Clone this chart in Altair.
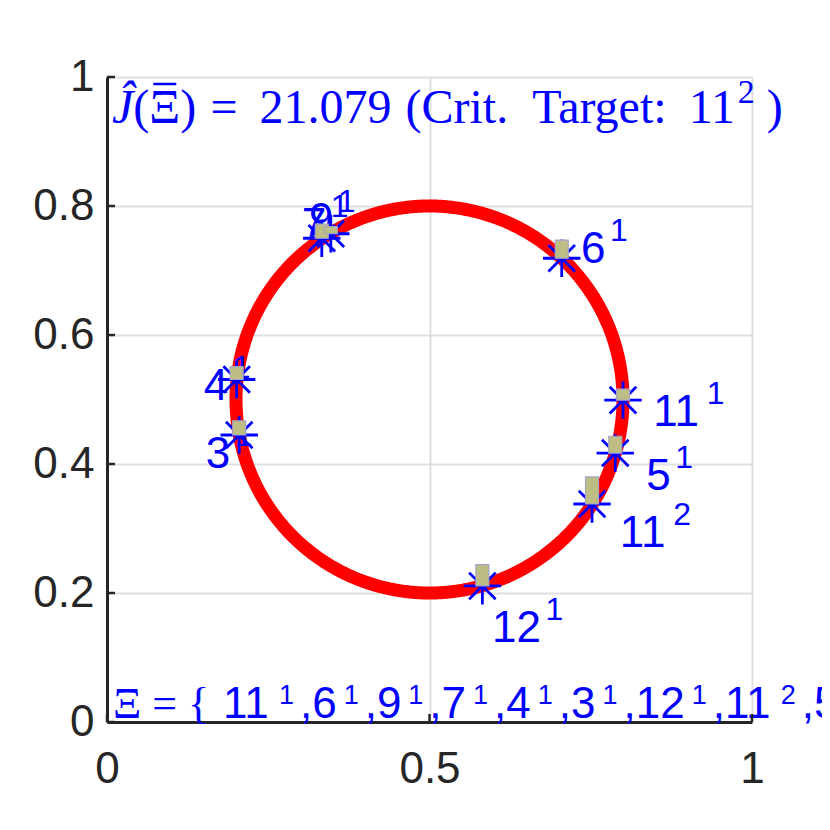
import altair as alt
import numpy as np
import pandas as pd

# ---------------- data ----------------
point_base = ["11", "6", "9", "7", "4", "3", "12", "11", "5"]
point_sup = ["1", "1", "1", "1", "1", "1", "1", "2", "1"]
point_x = [0.800, 0.705, 0.333, 0.347, 0.201, 0.205, 0.582, 0.752, 0.788]
point_y = [0.499, 0.719, 0.750, 0.757, 0.531, 0.445, 0.211, 0.338, 0.417]
bar_h = [0.017, 0.028, 0.022, 0.011, 0.020, 0.022, 0.033, 0.042, 0.026]
label_x = [0.847, 0.735, 0.313, 0.302, 0.150, 0.153, 0.597, 0.795, 0.836]
label_y = [0.459, 0.712, 0.757, 0.749, 0.499, 0.394, 0.124, 0.271, 0.360]
circle_center = [0.5, 0.5]
circle_radius = 0.3
x_ticks = [0, 0.5, 1]
y_ticks = [0, 0.2, 0.4, 0.6, 0.8, 1]
score_pieces = ["Ĵ", "(Ξ)", "=", "21.079", "(Crit.", "Target:", "11", "2", ")"]
set_prefix = "Ξ = {"

# ---------------- layout / style ----------------
W = H = 645
PX = 1.0 / W            # one pixel in data units
BASE_FS = 44
SUP_FS = 32
SET_SUP_FS = 27
DIGIT_W = 0.556 * BASE_FS
COMMA_W = 0.278 * BASE_FS
BLUE = "#0000FF"
DARK = "#262626"

xs = alt.Scale(domain=[0, 1], nice=False, zero=False)
ys = alt.Scale(domain=[0, 1], nice=False, zero=False)
xaxis = alt.Axis(values=x_ticks, format="~g", title=None, grid=True, tickSize=0,
                 labelPadding=25)
yaxis = alt.Axis(values=y_ticks, format="~g", title=None, grid=True, tickSize=0,
                 labelPadding=13)


def X(f):
    return alt.X(f, type="quantitative", scale=xs, axis=xaxis)


def Y(f):
    return alt.Y(f, type="quantitative", scale=ys, axis=yaxis)


# circle
t = np.linspace(0, 2 * np.pi, 721)
circle_df = pd.DataFrame({
    "t": np.arange(len(t)),
    "x": circle_center[0] + circle_radius * np.cos(t),
    "y": circle_center[1] + circle_radius * np.sin(t),
})
circle = alt.Chart(circle_df).mark_line(color="#FF0000", strokeWidth=13).encode(
    x=X("x"), y=Y("y"), order="t:Q"
)

pts = pd.DataFrame({
    "base": point_base, "sup": point_sup,
    "x": point_x, "y": point_y, "h": bar_h,
    "lx": label_x, "ly": label_y,
})
pts["y2"] = pts["y"] + pts["h"]
pts["bx1"] = pts["x"] - 6.5 * PX
pts["bx2"] = pts["x"] + 6.5 * PX
pts["sx"] = pts["lx"] + (pts["base"].str.len() * DIGIT_W + 4.5) * PX
pts["sy"] = pts["ly"] + 22 * PX

label_base = alt.Chart(pts).mark_text(
    font="Liberation Sans", fontSize=BASE_FS, color=BLUE, align="left",
    baseline="alphabetic").encode(x=X("lx"), y=Y("ly"), text="base:N")
label_sup = alt.Chart(pts).mark_text(
    font="Liberation Sans", fontSize=SUP_FS, color=BLUE, align="left",
    baseline="alphabetic").encode(x=X("sx"), y=Y("sy"), text="sup:N")

asterisk = "M-1,0L1,0M0,-1L0,1M-0.71,-0.71L0.71,0.71M-0.71,0.71L0.71,-0.71"
markers = alt.Chart(pts).mark_point(
    shape=asterisk, size=1400, color=BLUE, strokeWidth=2.8, filled=False, opacity=1
).encode(x=X("x"), y=Y("y"))

bars = alt.Chart(pts).mark_rect(
    fill="#BEBE84", stroke="#A4A4C8", strokeWidth=1.2
).encode(x=X("bx1"), x2="bx2", y=Y("y"), y2="y2")

# ---- top score text, laid out piece by piece (Times metrics) ----
SFS = 48
score_w = [0.444, 1.316, 0.564, 2.75, 2.139, 2.888, 1.0, 0.5, 0.333]  # em widths
score_gap = [0, 0, 14, 22, 14, 24, 18, 1, 12]                           # px before piece
score_fs = [SFS, SFS, SFS, SFS, SFS, SFS, SFS, 34, SFS]
score_raise = [0, 0, 0, 0, 0, 0, 0, 20, 0]
rows = []
cur = 112.0
for txt, w, g, fs, r in zip(score_pieces, score_w, score_gap, score_fs, score_raise):
    cur += g
    rows.append({"text": txt, "x": (cur - 107) * PX, "y": (599 + r) * PX, "fs": fs,
                 "it": "italic" if txt == "Ĵ" else "normal"})
    cur += w * fs
score_df = pd.DataFrame(rows)
score_reg = alt.Chart(score_df[score_df["it"] == "normal"]).mark_text(
    font="Liberation Serif", color=BLUE, align="left", baseline="alphabetic"
).encode(x=X("x"), y=Y("y"), text="text:N", size=alt.Size("fs:Q", scale=None, legend=None))
score_it = alt.Chart(score_df[score_df["it"] == "italic"]).mark_text(
    font="Liberation Serif", fontStyle="italic", color=BLUE, align="left", baseline="alphabetic"
).encode(x=X("x"), y=Y("y"), text="text:N", size=alt.Size("fs:Q", scale=None, legend=None))
# bar over the Xi
xi_start = 112 + (0.444 + 0.333) * SFS
macron_df = pd.DataFrame({"x": [(xi_start - 107 + 4) * PX], "x2": [(xi_start - 107 + 27) * PX],
                          "y": [(599 + 39) * PX]})
macron = alt.Chart(macron_df).mark_rule(color=BLUE, strokeWidth=2.5).encode(
    x=X("x"), x2="x2", y=Y("y"))

# ---- bottom set text, laid out piece by piece ----
rows_base, rows_sup = [], []
cur = 116.0
for i, (b, s) in enumerate(zip(point_base, point_sup)):
    rows_base.append({"text": b, "x": cur * PX})
    cur += len(b) * DIGIT_W + 7
    rows_sup.append({"text": s, "x": cur * PX})
    cur += 0.556 * SET_SUP_FS + 6
    rows_base.append({"text": "," if i < len(point_base) - 1 else " }", "x": cur * PX})
    cur += COMMA_W
set_base = pd.DataFrame(rows_base)
set_base["y"] = 4 * PX
set_sup = pd.DataFrame(rows_sup)
set_sup["y"] = 18 * PX
prefix_df = pd.DataFrame({"text": [set_prefix], "x": [6 * PX], "y": [4 * PX]})

prefix = alt.Chart(prefix_df).mark_text(
    font="Liberation Serif", fontSize=44, color=BLUE, align="left", baseline="alphabetic"
).encode(x=X("x"), y=Y("y"), text="text:N")
set_b = alt.Chart(set_base).mark_text(
    font="Liberation Sans", fontSize=BASE_FS, color=BLUE, align="left", baseline="alphabetic"
).encode(x=X("x"), y=Y("y"), text="text:N")
set_s = alt.Chart(set_sup).mark_text(
    font="Liberation Sans", fontSize=SET_SUP_FS, color=BLUE, align="left", baseline="alphabetic"
).encode(x=X("x"), y=Y("y"), text="text:N")

# inward tick marks
ytick_df = pd.DataFrame({"v": y_ticks})
xtick_df = pd.DataFrame({"v": x_ticks})
yticks = alt.Chart(ytick_df).mark_rule(color=DARK, strokeWidth=2.5).encode(
    y=Y("v"), x=alt.value(0), x2=alt.value(8))
xticks = alt.Chart(xtick_df).mark_rule(color=DARK, strokeWidth=2.5).encode(
    x=X("v"), y=alt.value(H), y2=alt.value(H - 8))

chart = alt.layer(
    circle, label_base, label_sup, markers, bars, score_reg, score_it, macron,
    prefix, set_b, set_s, yticks, xticks
).properties(
    width=W, height=H,
    autosize=alt.AutoSizeParams(type="none"),
    padding={"left": 99, "top": 69, "right": 70, "bottom": 100},
    background="white",
).configure_view(strokeWidth=0).configure_axis(
    domainColor=DARK, domainWidth=3, gridColor="#DFDFDF", gridWidth=2,
    labelFont="Liberation Sans", labelFontSize=44, labelColor=DARK,
    labelFlush=False, labelOverlap=False,
)

chart.save("out.html", embed_options={"renderer": "svg", "actions": False})
